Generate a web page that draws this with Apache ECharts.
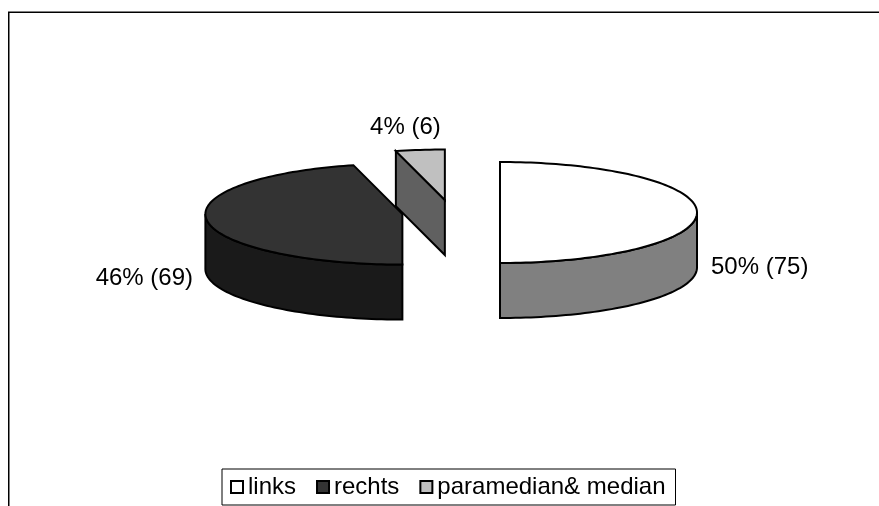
<!DOCTYPE html>
<html>
<head>
<meta charset="utf-8">
<script src="https://cdn.jsdelivr.net/npm/echarts@6/dist/echarts.min.js"></script>
<style>
html, body { margin: 0; padding: 0; background: #fff; }
#chart { width: 879px; height: 506px; }
</style>
</head>
<body>
<div id="chart"></div>
<script>
// Slice data
const categories = ['links', 'rechts', 'paramedian& median'];
const counts = [75, 69, 6];
const topColors = ['#ffffff', '#333333', '#c0c0c0'];
const sideColors = ['#808080', '#1a1a1a', '#606060'];

// 3D pie geometry (pixels)
const CX = 451, CY = 212.5, RX = 197, RY = 50.5, DEPTH = 55, EXPLODE = 49;
const FONT = 'Arial, "Liberation Sans", sans-serif';

const total = counts.reduce((a, b) => a + b, 0);
const TAU = Math.PI * 2;

// Angles run clockwise from 12 o'clock
function sliceAngles(i) {
  let before = 0;
  for (let k = 0; k < i; k++) before += counts[k];
  const a0 = before / total * TAU;
  const a1 = (before + counts[i]) / total * TAU;
  return [a0, a1];
}

function pt(cx, cy, a, dy) {
  return [cx + RX * Math.sin(a), cy - RY * Math.cos(a) + (dy || 0)];
}

function arc(cx, cy, a0, a1, dy) {
  const n = Math.max(2, Math.ceil(Math.abs(a1 - a0) / (Math.PI / 120)));
  const pts = [];
  for (let i = 0; i <= n; i++) pts.push(pt(cx, cy, a0 + (a1 - a0) * i / n, dy));
  return pts;
}

function renderSlice(params, api) {
  const i = params.seriesIndex;
  const v = api.value(0);
  const [a0, a1] = sliceAngles(i);
  const mid = (a0 + a1) / 2;
  const cx = CX + EXPLODE * Math.sin(mid);
  const cy = CY - EXPLODE * (RY / RX) * Math.cos(mid);
  const C = [cx, cy], Cd = [cx, cy + DEPTH];
  const lineStyle = { stroke: '#000', lineWidth: 2, lineJoin: 'miter' };
  const children = [];

  // radial cut faces, only those turned toward the viewer
  const faces = [[a0, a0 - Math.PI / 2], [a1, a1 + Math.PI / 2]];
  faces.forEach(([a, nrm]) => {
    if (Math.cos(nrm) < -1e-6) {
      const P = pt(cx, cy, a), Pd = pt(cx, cy, a, DEPTH);
      children.push({
        type: 'polygon',
        shape: { points: [C, P, Pd, Cd] },
        style: Object.assign({ fill: sideColors[i] }, lineStyle)
      });
    }
  });

  // front outer wall
  const w0 = Math.max(a0, Math.PI / 2), w1 = Math.min(a1, Math.PI * 1.5);
  if (w1 > w0) {
    const pts = arc(cx, cy, w0, w1, 0).concat(arc(cx, cy, w1, w0, DEPTH));
    children.push({
      type: 'polygon',
      shape: { points: pts },
      style: Object.assign({ fill: sideColors[i] }, lineStyle)
    });
  }

  // top face
  children.push({
    type: 'polygon',
    shape: { points: [C].concat(arc(cx, cy, a0, a1, 0)) },
    style: Object.assign({ fill: topColors[i] }, lineStyle)
  });

  // value label outside the slice
  const s = Math.sin(mid), c = Math.cos(mid);
  const nearVertical = Math.abs(s) < 0.3;
  const lx = cx + (RX + 14) * s - (nearVertical ? 13 : 0);
  const ly = cy - (RY + 30) * c + DEPTH * Math.abs(s);
  const align = nearVertical ? 'center' : (s > 0 ? 'left' : 'right');
  children.push({
    type: 'text',
    style: {
      text: Math.round(v / total * 100) + '% (' + v + ')',
      x: lx, y: ly,
      fill: '#000',
      fontSize: 24,
      fontFamily: FONT,
      align: align,
      verticalAlign: 'middle'
    }
  });

  return { type: 'group', children: children };
}

const chart = echarts.init(document.getElementById('chart'), null, { renderer: 'canvas' });

chart.setOption({
  animation: false,
  backgroundColor: '#fff',
  graphic: [{
    type: 'rect',
    silent: true,
    z: -10,
    shape: { x: 8.75, y: 12.25, width: 1000, height: 1000 },
    style: { fill: 'none', stroke: '#000', lineWidth: 1.5 }
  }],
  legend: {
    data: categories,
    left: 222,
    top: 469,
    orient: 'horizontal',
    icon: 'rect',
    itemWidth: 12,
    itemHeight: 12,
    itemGap: 20,
    padding: [6, 10, 6, 8],
    borderColor: '#000',
    borderWidth: 1,
    selectedMode: false,
    itemStyle: { borderColor: '#000', borderWidth: 2 },
    textStyle: { fontSize: 24, fontFamily: FONT, color: '#000' }
  },
  series: categories.map((name, i) => ({
    type: 'custom',
    name: name,
    coordinateSystem: 'none',
    itemStyle: { color: topColors[i] },
    renderItem: renderSlice,
    data: [[counts[i]]]
  }))
});
</script>
</body>
</html>
